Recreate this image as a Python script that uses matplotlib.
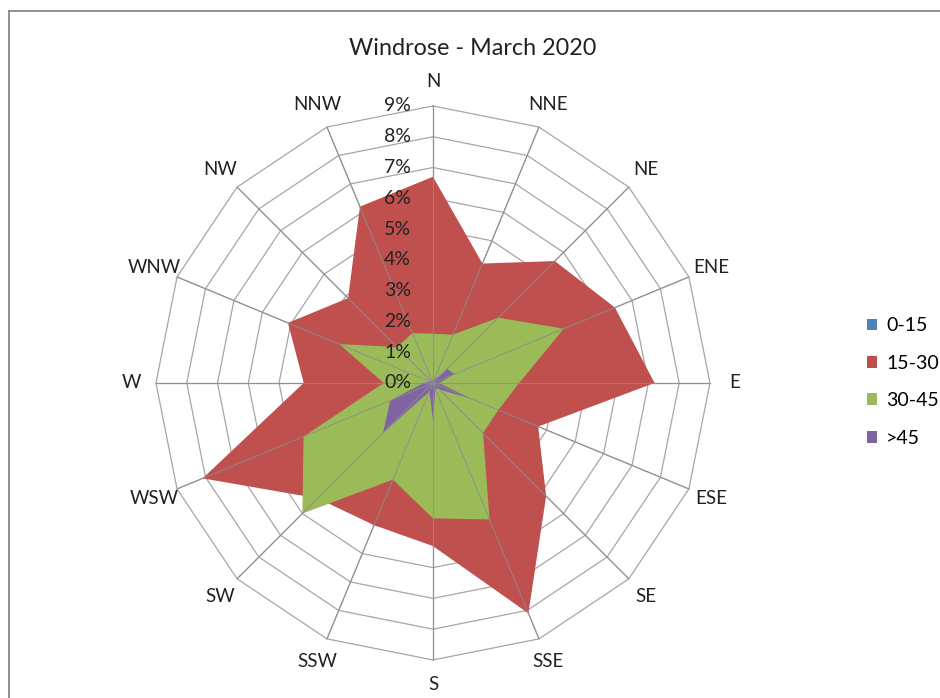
import numpy as np
import matplotlib
matplotlib.use("Agg")
import matplotlib.pyplot as plt
from matplotlib.lines import Line2D
from matplotlib.patches import Patch
from matplotlib.transforms import offset_copy

plt.rcParams["font.family"] = ["Lato", "DejaVu Sans"]

# -----------------------------
# Data (% of observations)
# -----------------------------

directions = ["N", "NNE", "NE", "ENE", "E", "ESE", "SE", "SSE",
              "S", "SSW", "SW", "WSW", "W", "WNW", "NW", "NNW"]

speed_0_15 = [0, 0, 0, 0, 0, 0, 0, 0, 0, 0, 0, 0, 0, 0, 0, 0]
speed_15_30 = [6.7, 4.2, 5.6, 6.4, 7.2, 3.7, 5.2, 8.1,
               5.3, 5.0, 5.3, 8.1, 4.2, 5.1, 3.9, 6.2]
speed_30_45 = [1.6, 1.7, 3.0, 4.6, 2.8, 2.3, 2.3, 4.8,
               4.4, 3.4, 6.0, 4.55, 1.6, 3.3, 1.65, 1.75]
speed_45 = [0.1, 0.1, 0.65, 0.75, 0.2, 1.35, 0.3, 0.2,
            1.2, 0.3, 2.3, 1.5, 0.3, 0.1, 0.1, 0.1]

series_names = ["0-15", "15-30", "30-45", ">45"]
series_colors = ["#4F81BD", "#C0504D", "#9BBB59", "#8064A2"]
ring_values = list(range(0, 10))

# -----------------------------
# Figure
# -----------------------------

fig = plt.figure(figsize=(9.4, 6.98), dpi=100)

ax = fig.add_axes([0.1659, 0.0545, 0.5894, 0.7937], projection="polar")
ax.set_theta_zero_location("N")
ax.set_theta_direction(-1)
ax.set_ylim(0, 9)
ax.set_axis_off()

theta = np.linspace(0, 2 * np.pi, len(directions), endpoint=False)
theta_closed = np.append(theta, theta[0])

grid_color = "#A6A6A6"

# polygon rings
for r in ring_values[1:]:
    ax.plot(theta_closed, [r] * len(theta_closed), color=grid_color,
            lw=0.9, zorder=1, clip_on=False)

# spokes
for t in theta:
    ax.plot([t, t], [0, 9], color=grid_color, lw=0.9, zorder=1,
            clip_on=False)

# filled series
all_series = [speed_0_15, speed_15_30, speed_30_45, speed_45]
for i, values in enumerate(all_series):
    vals = np.append(values, values[0])
    ax.fill(theta_closed, vals, color=series_colors[i], lw=0,
            zorder=2 + i)

# spokes drawn again over the fills (thin, like Excel)
for t in theta:
    ax.plot([t, t], [0, 9], color="#8C8C8C", lw=0.8, zorder=7, alpha=0.8)

# ring labels
label_trans = offset_copy(ax.transData, fig=fig, x=-22, y=0, units="dots")
for r in ring_values:
    ax.text(0, r, f"{r}%", transform=label_trans, ha="right",
            va="center", fontsize=14, color="#222222", zorder=9)

# direction labels
for t, name in zip(theta, directions):
    ax.text(t, 9.8, name, ha="center", va="center", fontsize=13.5,
            color="#222222")

# -----------------------------
# Title, legend, frame
# -----------------------------

fig.text(0.5027, 0.931, "Windrose - March 2020", ha="center",
         va="center", fontsize=16.8, color="#222222")

handles = [Patch(facecolor=c, edgecolor="none") for c in series_colors]
fig.legend(handles, series_names, loc="center left",
           bbox_to_anchor=(857 / 940, 1 - 382 / 698), frameon=False,
           fontsize=14, handlelength=0.55, handleheight=0.55,
           handletextpad=0.45, labelspacing=1.05, borderpad=0)

frame_color = "#878787"
fig.add_artist(Line2D([8.5 / 940, 1.0], [1 - 10.5 / 698, 1 - 10.5 / 698],
                      color=frame_color, lw=1.3, transform=fig.transFigure))
fig.add_artist(Line2D([8.5 / 940, 8.5 / 940], [0.0, 1 - 10.5 / 698],
                      color=frame_color, lw=1.3, transform=fig.transFigure))

fig.savefig("out.png", dpi=100, facecolor="white")
